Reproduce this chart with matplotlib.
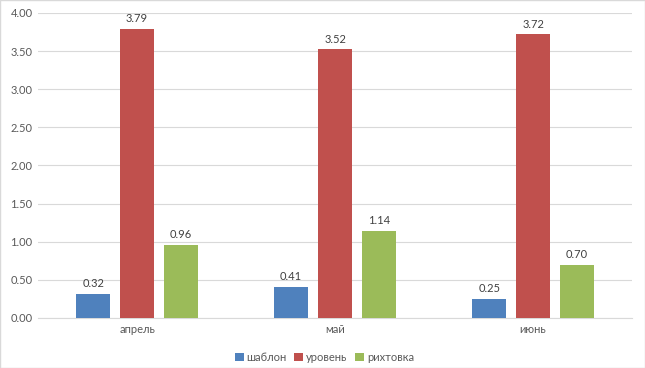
import matplotlib.pyplot as plt
import numpy as np

plt.rcParams['font.family'] = ['Lato', 'DejaVu Sans']

months = ["апрель", "май", "июнь"]
series_names = ["шаблон", "уровень", "рихтовка"]
shablon = [0.32, 0.41, 0.25]
uroven = [3.79, 3.52, 3.72]
rihtovka = [0.96, 1.14, 0.70]
colors = ["#4F81BD", "#C0504D", "#9BBB59"]

text_color = "#595959"

fig = plt.figure(figsize=(6.45, 3.68), dpi=100)
ax = fig.add_axes([0.059, 0.136, 0.921, 0.829])

x = np.arange(len(months))
width = 0.172
step = 0.222
for i, (vals, name, c) in enumerate(zip([shablon, uroven, rihtovka], series_names, colors)):
    bars = ax.bar(x + (i - 1) * step, vals, width, color=c, label=name, zorder=3)
    for b, v in zip(bars, vals):
        ax.text(b.get_x() + b.get_width() / 2, v + 0.06, f"{v:.2f}",
                ha="center", va="bottom", fontsize=8, color="#404040")

ax.set_xlim(-0.5, 2.5)
ax.set_ylim(0, 4)
ax.set_yticks(np.arange(0, 4.01, 0.5))
ax.set_yticklabels([f"{t:.2f}" for t in np.arange(0, 4.01, 0.5)])
ax.set_xticks(x)
ax.set_xticklabels(months)
ax.yaxis.grid(True, color="#D9D9D9", linewidth=0.8, zorder=0)
ax.tick_params(axis="both", length=0, labelsize=8, labelcolor=text_color, pad=4)
for s in ["top", "right", "left"]:
    ax.spines[s].set_visible(False)
ax.spines["bottom"].set_color("#D9D9D9")

# legend centred on the figure, not the axes
fig.legend(loc="lower center", bbox_to_anchor=(0.503, -0.013), ncol=3, frameon=False,
           fontsize=8, labelcolor=text_color, handlelength=0.8, handleheight=0.8,
           handletextpad=0.25, columnspacing=0.7)

fig.patches.append(plt.Rectangle((0, 0), 1, 1, transform=fig.transFigure,
                                 fill=False, edgecolor="#D9D9D9", linewidth=1))

fig.savefig("out.png", dpi=100)
